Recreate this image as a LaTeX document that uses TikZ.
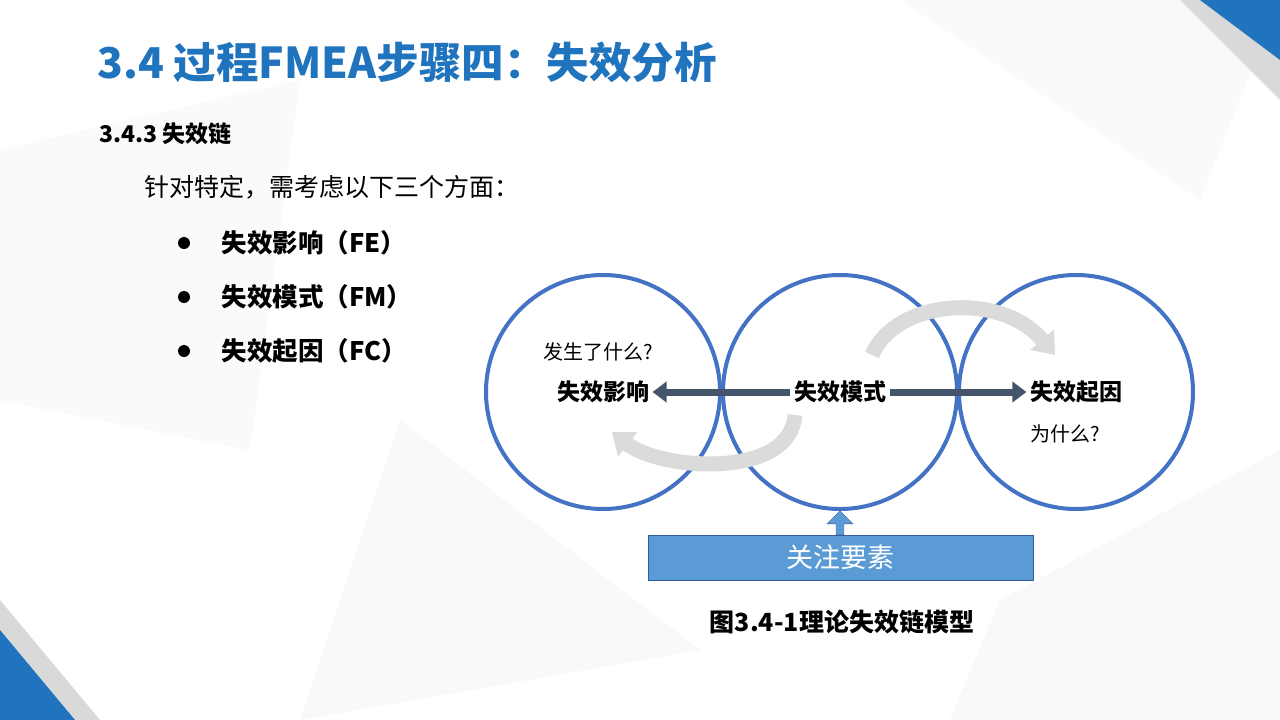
\documentclass[tikz,border=0pt]{standalone}
\usepackage{fontspec}
\setmainfont{Noto Sans CJK SC}
\usetikzlibrary{arrows.meta,shapes.arrows}
\definecolor{tblue}{HTML}{1F74BD}
\definecolor{cblue}{HTML}{4472C4}
\definecolor{slate}{HTML}{44546A}
\definecolor{bbox}{HTML}{5B9BD5}
\tikzset{
  circ/.style={draw=cblue,line width=4pt},
  lbl/.style={font=\fontsize{23}{26}\selectfont\bfseries},
  qst/.style={font=\fontsize{20}{23}\selectfont},
  bul/.style={anchor=west,font=\fontsize{25.5}{30}\selectfont\bfseries},
  darr/.style={-{Triangle[length=14pt,width=20pt]},line width=7pt,draw=slate},
  garr/.style={line width=15pt,draw=black!14,-{Triangle[length=20pt,width=30pt]}}
}
\begin{document}
\begin{tikzpicture}[x=1pt,y=-1pt]
\useasboundingbox (0,0) rectangle (1280,720);
\fill[white] (0,0) rectangle (1280,720);
% faint background facets
\fill[black!2] (0,150) -- (300,80) -- (250,450) -- (0,400) -- cycle;
\fill[black!2.5] (400,420) -- (700,650) -- (300,720) -- cycle;
\fill[black!2] (900,0) -- (1200,200) -- (1280,0) -- cycle;
\fill[black!2.5] (1000,600) -- (1280,450) -- (1280,720) -- (950,720) -- cycle;
% corners
\fill[black!15] (1180,0) -- (1280,0) -- (1280,100) -- cycle;
\fill[tblue] (1200,0) -- (1280,0) -- (1280,60) -- cycle;
\fill[black!15] (0,600) -- (100,720) -- (0,720) -- cycle;
\fill[tblue] (0,630) -- (75,720) -- (0,720) -- cycle;
% texts
\node[anchor=west,text=tblue,font=\fontsize{42.5}{48}\selectfont\bfseries] (title) at (94,62) {3.4 过程FMEA步骤四：失效分析};
\node[anchor=west,font=\fontsize{23}{27}\selectfont\bfseries] (sub) at (96,134) {3.4.3 失效链};
\node[anchor=west,font=\fontsize{25}{30}\selectfont] (intro) at (141,187) {针对特定，需考虑以下三个方面：};
\foreach \y/\t/\n in {243/失效影响（FE）/b1,297/失效模式（FM）/b2,351/失效起因（FC）/b3}{
  \fill (184,\y) circle (6);
  \node[bul] (\n) at (218,\y) {\t};
}
% circles
\draw[circ] (603,392) circle (117);
\draw[circ] (840,392) circle (117);
\draw[circ] (1076,392) circle (117);
% gray curved arrows
\draw[garr] (872,355) .. controls (895,300) and (1000,290) .. (1055,355);
\draw[garr] (795,415) .. controls (790,480) and (660,470) .. (612,432);
% labels
\node[lbl] (fe) at (603,392) {失效影响};
\node[lbl] (fm) at (840,392) {失效模式};
\node[lbl] (fc) at (1076,392) {失效起因};
\node[qst] (q1) at (598,352) {发生了什么?};
\node[qst] (q2) at (1065,434) {为什么?};
\draw[darr] (fm.west) -- (fe.east);
\draw[darr] (fm.east) -- (fc.west);
% box
\node[draw=cblue!80!black,fill=bbox,minimum width=385pt,minimum height=45pt,text=white,font=\fontsize{27}{30}\selectfont] (box) at (840.5,557.5) {关注要素};
\node[single arrow,shape border rotate=90,fill=bbox,draw=cblue!80!black,minimum height=24pt,minimum width=26pt,single arrow head extend=5pt,inner sep=2pt,anchor=tail] (up) at (840,535) {};
\node[font=\fontsize{25}{30}\selectfont\bfseries] (cap) at (842,622) {图3.4-1理论失效链模型};
\end{tikzpicture}
\end{document}
